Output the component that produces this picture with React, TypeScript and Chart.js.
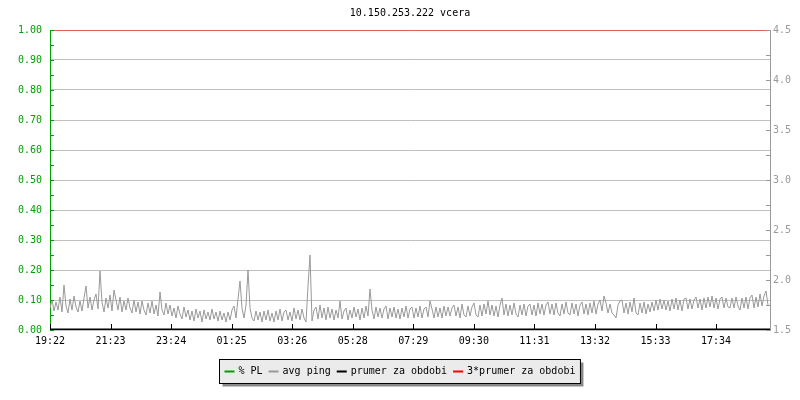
import React, { useEffect, useRef } from "react";
import { Chart, registerables } from "chart.js";

Chart.register(...registerables);

const TITLE = "10.150.253.222 vcera";
const TIME_LABELS = ["19:22", "21:23", "23:24", "01:25", "03:26", "05:28", "07:29", "09:30", "11:31", "13:32", "15:33", "17:34"];
const TICK_STEP_MIN = 121.1;
const PERIOD_MIN = 1440;
const SAMPLE_MIN = 4;

const PING = [
  1.72,1.80,1.69,1.78,1.70,1.83,1.68,1.95,1.74,1.67,1.81,1.70,1.84,1.73,1.68,1.79,1.69,1.82,1.94,1.72,
  1.83,1.70,1.80,1.86,1.71,2.09,1.78,1.68,1.82,1.72,1.85,1.69,1.90,1.80,1.70,1.83,1.68,1.79,1.70,1.82,
  1.72,1.67,1.80,1.68,1.78,1.66,1.79,1.70,1.65,1.77,1.67,1.79,1.66,1.75,1.64,1.88,1.70,1.65,1.77,1.66,
  1.75,1.64,1.72,1.62,1.74,1.66,1.61,1.73,1.63,1.70,1.60,1.69,1.59,1.71,1.62,1.69,1.58,1.70,1.61,1.68,
  1.60,1.71,1.61,1.68,1.59,1.69,1.60,1.67,1.58,1.68,1.60,1.70,1.74,1.62,1.81,1.99,1.72,1.62,1.75,2.10,
  1.72,1.62,1.59,1.69,1.60,1.68,1.58,1.69,1.60,1.70,1.59,1.67,1.58,1.69,1.60,1.71,1.59,1.68,1.70,1.60,
  1.68,1.59,1.72,1.61,1.70,1.60,1.71,1.62,1.58,1.94,2.25,1.59,1.70,1.73,1.61,1.75,1.62,1.72,1.60,1.73,
  1.62,1.71,1.60,1.70,1.62,1.79,1.61,1.69,1.72,1.60,1.70,1.62,1.73,1.63,1.71,1.60,1.72,1.62,1.74,1.64,
  1.91,1.70,1.61,1.73,1.63,1.72,1.62,1.71,1.74,1.61,1.72,1.63,1.73,1.62,1.71,1.61,1.72,1.63,1.74,1.62,
  1.71,1.73,1.62,1.72,1.63,1.74,1.62,1.71,1.73,1.63,1.79,1.71,1.62,1.73,1.63,1.72,1.62,1.74,1.64,1.73,
  1.64,1.72,1.75,1.64,1.73,1.62,1.76,1.65,1.63,1.74,1.64,1.73,1.77,1.65,1.63,1.75,1.64,1.76,1.66,1.79,
  1.65,1.75,1.64,1.74,1.63,1.75,1.82,1.65,1.76,1.64,1.75,1.65,1.77,1.66,1.63,1.75,1.65,1.76,1.64,1.74,
  1.76,1.65,1.75,1.64,1.77,1.66,1.76,1.65,1.75,1.78,1.66,1.76,1.65,1.77,1.67,1.64,1.76,1.66,1.78,1.67,
  1.65,1.77,1.66,1.76,1.64,1.75,1.78,1.66,1.76,1.65,1.77,1.67,1.79,1.66,1.76,1.80,1.69,1.84,1.77,1.67,
  1.76,1.67,1.65,1.62,1.75,1.79,1.80,1.67,1.77,1.66,1.78,1.68,1.82,1.67,1.65,1.77,1.67,1.78,1.66,1.76,
  1.68,1.78,1.69,1.80,1.70,1.81,1.71,1.80,1.70,1.79,1.69,1.81,1.71,1.82,1.70,1.80,1.69,1.81,1.82,1.71,
  1.81,1.71,1.80,1.83,1.72,1.81,1.70,1.82,1.72,1.83,1.73,1.84,1.72,1.82,1.71,1.81,1.83,1.72,1.82,1.73,
  1.72,1.82,1.72,1.83,1.74,1.70,1.82,1.72,1.83,1.71,1.82,1.85,1.72,1.83,1.73,1.86,1.74,1.84,1.89,1.75,
];
const PL_VALUES = [0, 0];
const AVG_PING = 1.5;
const AVG3_PING = 4.5;

const LABEL_PL = "% PL";
const LABEL_PING = "avg ping";
const LABEL_AVG = "prumer za obdobi";
const LABEL_AVG3 = "3*prumer za obdobi";

const GREEN = "#00a000";
const GRAY = "#999999";
const FONT = "DejaVu Sans Mono";

const decorPlugin = {
  id: "decor",
  afterDraw(chart: any) {
    const ctx = chart.ctx;
    const area = chart.chartArea;
    const x = chart.scales.x;
    const y = chart.scales.y;
    const y1 = chart.scales.y1;
    ctx.save();
    ctx.lineWidth = 1;
    ctx.strokeStyle = GREEN;
    for (let v = 0; v <= 1.0001; v += 0.05) {
      const py = Math.round(y.getPixelForValue(v)) + 0.5;
      ctx.beginPath();
      ctx.moveTo(area.left, py);
      ctx.lineTo(area.left + 4, py);
      ctx.stroke();
    }
    ctx.strokeStyle = GRAY;
    for (let v = 1.5; v <= 4.5001; v += 0.25) {
      const py = Math.round(y1.getPixelForValue(v)) + 0.5;
      ctx.beginPath();
      ctx.moveTo(area.right, py);
      ctx.lineTo(area.right - 4, py);
      ctx.stroke();
    }
    ctx.strokeStyle = "#000";
    TIME_LABELS.forEach((_, i) => {
      const px = Math.round(x.getPixelForValue(i * TICK_STEP_MIN)) + 0.5;
      ctx.beginPath();
      ctx.moveTo(px, area.bottom);
      ctx.lineTo(px, area.bottom - 6);
      ctx.stroke();
    });
    ctx.fillStyle = "#000";
    ctx.font = `10px "${FONT}"`;
    ctx.textAlign = "center";
    ctx.textBaseline = "middle";
    ctx.fillText(TITLE, (area.left + area.right) / 2, 13);

    const items = chart.data.datasets.map((d: any) => ({ label: d.label, color: d.borderColor }));
    const sw = 10, gapSw = 4, gapItem = 6, pad = 5;
    let total = pad * 2;
    items.forEach((it: any, i: number) => {
      total += sw + gapSw + ctx.measureText(it.label).width;
      if (i < items.length - 1) total += gapItem;
    });
    const bx = Math.round(399 - total / 2) + 0.5;
    const by = 359.5;
    const bh = 24;
    ctx.fillStyle = "#888888";
    ctx.fillRect(bx + 3, by + 3, total, bh);
    ctx.fillStyle = "#ebebeb";
    ctx.fillRect(bx, by, total, bh);
    ctx.strokeStyle = "#000";
    ctx.strokeRect(bx, by, total, bh);
    let cx = bx + pad;
    ctx.textAlign = "left";
    items.forEach((it: any) => {
      ctx.fillStyle = it.color;
      ctx.fillRect(cx, by + 11, sw, 2);
      cx += sw + gapSw;
      ctx.fillStyle = "#000";
      ctx.fillText(it.label, cx, by + bh / 2);
      cx += ctx.measureText(it.label).width + gapItem;
    });
    ctx.restore();
  },
};

export default function App() {
  const ref = useRef<HTMLCanvasElement | null>(null);
  useEffect(() => {
    document.body.style.margin = "0";
    const pingData = PING.map((v, i) => ({ x: i * SAMPLE_MIN, y: v }));
    const plData = PL_VALUES.map((v, i) => ({ x: i * PERIOD_MIN, y: v }));
    const avgData = [{ x: 0, y: AVG_PING }, { x: PERIOD_MIN, y: AVG_PING }];
    const avg3Data = [{ x: 0, y: AVG3_PING }, { x: PERIOD_MIN, y: AVG3_PING }];
    const chart = new Chart(ref.current as HTMLCanvasElement, {
      type: "line",
      data: {
        datasets: [
          { label: LABEL_PL, data: plData, borderColor: GREEN, backgroundColor: GREEN, borderWidth: 1, pointRadius: 0, yAxisID: "y", order: 4 },
          { label: LABEL_PING, data: pingData, borderColor: GRAY, backgroundColor: GRAY, borderWidth: 1, pointRadius: 0, yAxisID: "y1", order: 3 },
          { label: LABEL_AVG, data: avgData, borderColor: "#000000", backgroundColor: "#000000", borderWidth: 3, pointRadius: 0, yAxisID: "y1", order: 2 },
          { label: LABEL_AVG3, data: avg3Data, borderColor: "#ff0000", backgroundColor: "#ff0000", borderWidth: 1, pointRadius: 0, yAxisID: "y1", order: 1 },
        ],
      },
      options: {
        responsive: false,
        animation: false,
        parsing: false as any,
        layout: { padding: { top: 30, bottom: 50, left: 0, right: 0 } },
        plugins: { legend: { display: false }, title: { display: false }, tooltip: { enabled: false } },
        scales: {
          x: {
            type: "linear",
            min: 0,
            max: PERIOD_MIN,
            grid: { display: false, drawTicks: false },
            border: { display: false },
            afterBuildTicks: (axis: any) => {
              axis.ticks = TIME_LABELS.map((_, i) => ({ value: i * TICK_STEP_MIN }));
            },
            afterFit: (axis: any) => { axis.height = 20; },
            ticks: {
              autoSkip: false,
              maxRotation: 0,
              padding: 5,
              color: "#000",
              font: { family: FONT, size: 10 },
              callback: (_v: any, i: number) => TIME_LABELS[i],
            },
          },
          y: {
            position: "left",
            min: 0,
            max: 1,
            grid: { color: "#c0c0c0", drawTicks: false },
            border: { color: GREEN, width: 1 },
            afterFit: (axis: any) => { axis.width = 50; },
            ticks: {
              stepSize: 0.1,
              padding: 8,
              color: GREEN,
              font: { family: FONT, size: 10 },
              callback: (v: any) => Number(v).toFixed(2),
            },
          },
          y1: {
            position: "right",
            min: 1.5,
            max: 4.5,
            grid: { display: false, drawTicks: false },
            border: { color: GRAY, width: 1 },
            afterFit: (axis: any) => { axis.width = 30; },
            ticks: {
              stepSize: 0.5,
              padding: 3,
              color: GRAY,
              font: { family: FONT, size: 10 },
              callback: (v: any) => Number(v).toFixed(1),
            },
          },
        },
      } as any,
      plugins: [decorPlugin],
    });
    return () => chart.destroy();
  }, []);
  return (
    <div style={{ width: 800, height: 400 }}>
      <canvas ref={ref} width={800} height={400} />
    </div>
  );
}
